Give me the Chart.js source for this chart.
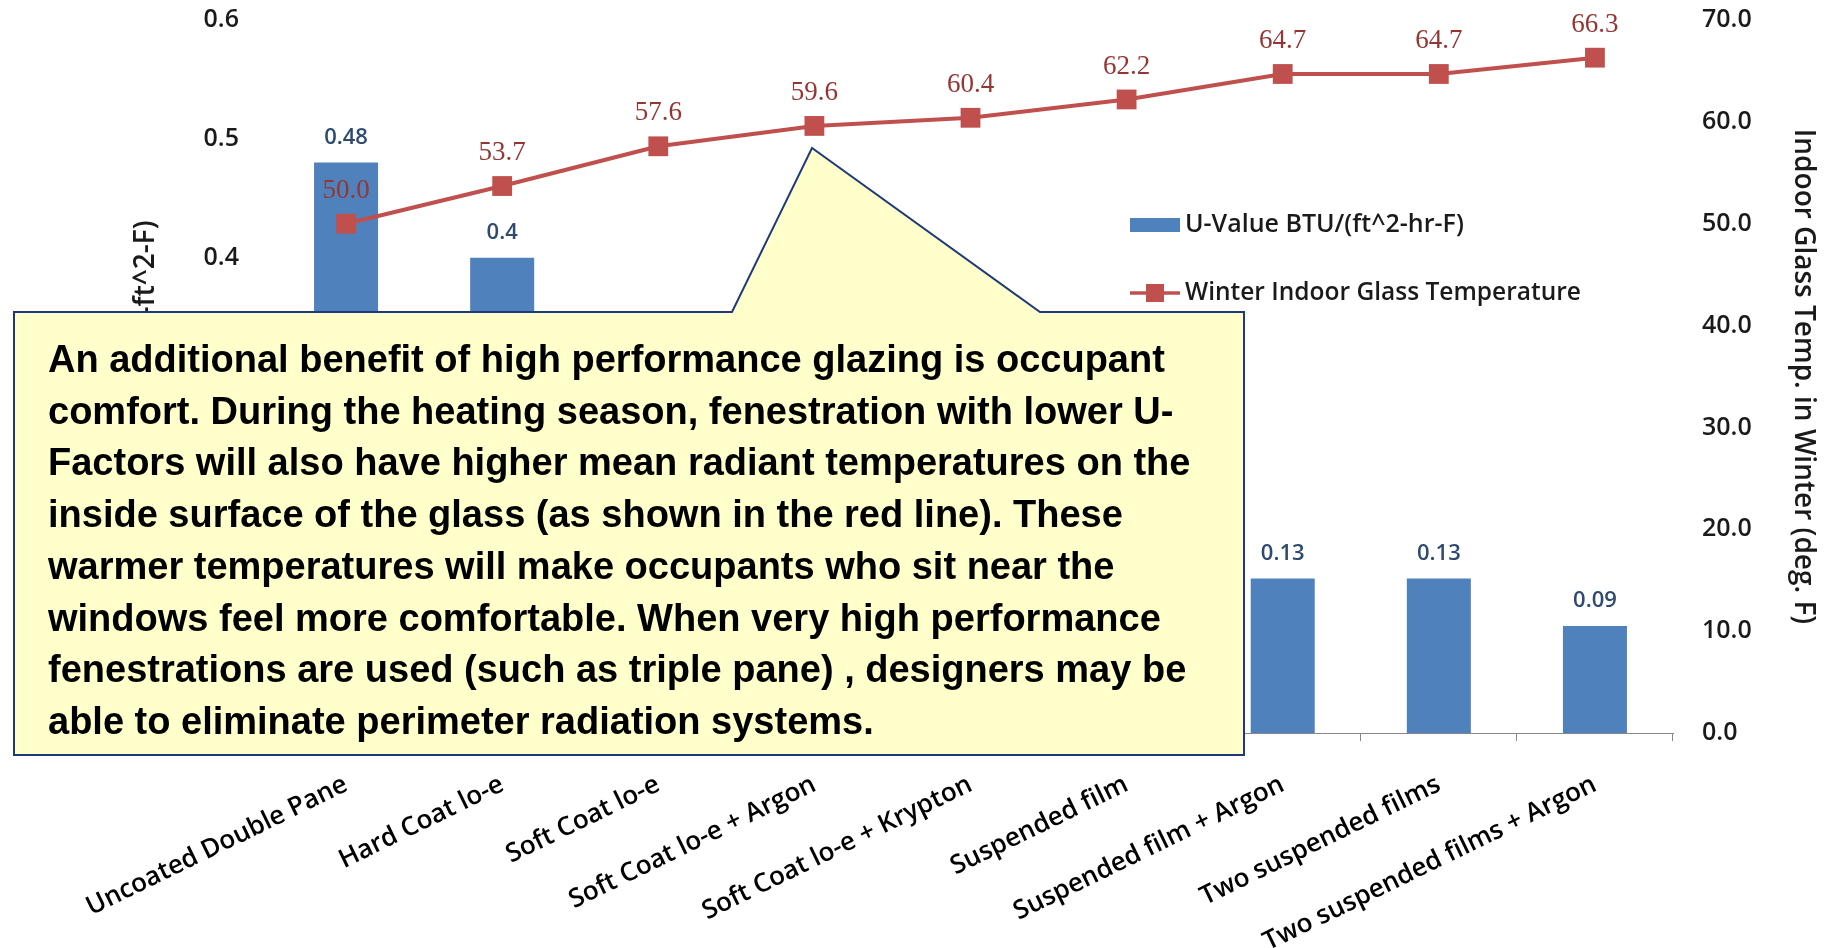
<!DOCTYPE html>
<html>
<head>
<meta charset="utf-8">
<title>Glazing U-Value vs Winter Glass Temperature</title>
<script src="https://cdn.jsdelivr.net/npm/chart.js@4.4.1/dist/chart.umd.min.js"></script>
<style>
    html, body { margin: 0; padding: 0; background: #fff; }
    #wrap { position: relative; width: 1827px; height: 948px; overflow: hidden; }
    #chart { position: absolute; left: 0; top: 0; }
    #callout-shape { position: absolute; left: 0; top: 0; }
    #callout-text {
        position: absolute; left: 48px; top: 334px;
        font: bold 38px "Liberation Sans", Arial, sans-serif;
        line-height: 51.7px; color: #000; white-space: nowrap;
    }
</style>
</head>
<body>
<div id="wrap">
    <canvas id="chart" width="1827" height="948"></canvas>
    <svg id="callout-shape" width="1827" height="948">
        <polygon points="14,312 732,312 812,148 1040,312 1244,312 1244,755 14,755"
                 fill="#FFFFCC" stroke="#1F3A7A" stroke-width="2"/>
    </svg>
    <div id="callout-text">An additional benefit of high performance glazing is occupant<br>comfort. During the heating season, fenestration with lower U-<br>Factors will also have higher mean radiant temperatures on the<br>inside surface of the glass (as shown in the red line). These<br>warmer temperatures will make occupants who sit near the<br>windows feel more comfortable. When very high performance<br>fenestrations are used (such as triple pane) , designers may be<br>able to eliminate perimeter radiation systems.</div>
</div>
<script>
// Chart data
const categories = [
    'Uncoated Double Pane', 'Hard Coat lo-e', 'Soft Coat lo-e',
    'Soft Coat lo-e + Argon', 'Soft Coat lo-e + Krypton', 'Suspended film',
    'Suspended film + Argon', 'Two suspended films', 'Two suspended films + Argon'
];
const uValues = [0.48, 0.4, 0.30, 0.25, 0.23, 0.19, 0.13, 0.13, 0.09];
const glassTemps = [50.0, 53.7, 57.6, 59.6, 60.4, 62.2, 64.7, 64.7, 66.3];
const uAxisTicks = [0, 0.1, 0.2, 0.3, 0.4, 0.5, 0.6];
const tempAxisTicks = [0, 10, 20, 30, 40, 50, 60, 70];

const barLabel = 'U-Value BTU/(ft^2-hr-F)';
const lineLabel = 'Winter Indoor Glass Temperature';
const uAxisTitle = 'U-Value BTU/(hr-ft^2-F)';
const tempAxisTitle = 'Indoor Glass Temp. in Winter (deg. F)';

const BLUE = '#4F81BD';
const RED = '#C0504D';
const FONT = '"Open Sans", "Noto Sans", sans-serif';

Chart.defaults.font.family = FONT;

// Value labels above bars and points
const valueLabels = {
    id: 'valueLabels',
    afterDatasetsDraw(chart) {
        const ctx = chart.ctx;
        ctx.save();
        ctx.textAlign = 'center';
        ctx.textBaseline = 'middle';
        chart.data.datasets.forEach((ds, i) => {
            const meta = chart.getDatasetMeta(i);
            meta.data.forEach((el, j) => {
                const v = ds.data[j];
                if (ds.type === 'line') {
                    ctx.font = '27px "Liberation Serif", "Times New Roman", serif';
                    ctx.fillStyle = '#943634';
                    ctx.fillText(v.toFixed(1), el.x, el.y - 33);
                } else {
                    ctx.font = '600 22px ' + FONT;
                    ctx.fillStyle = '#2E4A6E';
                    ctx.fillText(String(v), el.x, el.y - 25);
                }
            });
        });
        ctx.restore();
    }
};

// Legend drawn inside the plot, right of centre
const insideLegend = {
    id: 'insideLegend',
    afterDraw(chart) {
        const ctx = chart.ctx;
        const x = 1130, w = 50;
        ctx.save();
        ctx.font = '600 25px ' + FONT;
        ctx.textBaseline = 'middle';

        ctx.fillStyle = BLUE;
        ctx.fillRect(x, 218, w, 14);
        ctx.fillStyle = '#1a1a1a';
        ctx.fillText(barLabel, x + w + 5, 225);

        ctx.strokeStyle = RED;
        ctx.lineWidth = 3.5;
        ctx.beginPath();
        ctx.moveTo(x, 293);
        ctx.lineTo(x + w, 293);
        ctx.stroke();
        ctx.fillStyle = RED;
        ctx.fillRect(x + w / 2 - 9, 293 - 9, 18, 18);
        ctx.fillStyle = '#1a1a1a';
        ctx.font = '600 24.5px ' + FONT;
        ctx.fillText(lineLabel, x + w + 5, 293);
        ctx.restore();
    }
};

// fixed axis box sizes so the plot area sits where the picture has it
function fixWidth(w) {
    return s => {
        s.width = w;
        s.paddingTop = 0;
        s.paddingBottom = 0;
    };
}

const ctx = document.getElementById('chart').getContext('2d');
new Chart(ctx, {
    type: 'bar',
    data: {
        labels: categories,
        datasets: [
            {
                type: 'line',
                label: lineLabel,
                data: glassTemps,
                yAxisID: 'yTemp',
                borderColor: RED,
                backgroundColor: RED,
                borderWidth: 4,
                pointStyle: 'rect',
                pointRadius: 14,
                pointBorderWidth: 0,
                tension: 0,
                order: 0
            },
            {
                type: 'bar',
                label: barLabel,
                data: uValues,
                yAxisID: 'yU',
                backgroundColor: BLUE,
                barPercentage: 0.41,
                categoryPercentage: 1.0,
                order: 1
            }
        ]
    },
    options: {
        responsive: false,
        animation: false,
        layout: { padding: { top: 20, left: 0, right: 0, bottom: 0 } },
        plugins: {
            legend: { display: false },
            tooltip: { enabled: false }
        },
        scales: {
            x: {
                offset: true,
                grid: {
                    display: true, drawOnChartArea: false, drawTicks: true,
                    tickLength: 8, color: '#868686', offset: true
                },
                border: { display: true, color: '#868686', width: 1 },
                ticks: {
                    autoSkip: false, minRotation: 26, maxRotation: 26, padding: 28,
                    color: '#000', font: { size: 26, weight: '600' }
                },
                afterFit: s => { s.height = 215; }
            },
            yU: {
                position: 'left',
                min: uAxisTicks[0],
                max: uAxisTicks[uAxisTicks.length - 1],
                grid: { display: false },
                border: { display: false },
                ticks: {
                    stepSize: uAxisTicks[1] - uAxisTicks[0], padding: 21,
                    color: '#1a1a1a', font: { size: 25, weight: '600' },
                    callback: v => String(Math.round(v * 10) / 10)
                },
                title: {
                    display: true, text: uAxisTitle, color: '#1a1a1a',
                    font: { size: 28, weight: '600' }, padding: { top: 129, bottom: 0 }
                },
                afterFit: fixWidth(268)
            },
            yTemp: {
                position: 'right',
                min: tempAxisTicks[0],
                max: tempAxisTicks[tempAxisTicks.length - 1],
                grid: { display: false },
                border: { display: false },
                ticks: {
                    stepSize: tempAxisTicks[1] - tempAxisTicks[0], padding: 21,
                    color: '#1a1a1a', font: { size: 25, weight: '600' },
                    callback: v => v.toFixed(1)
                },
                title: {
                    display: true, text: tempAxisTitle, color: '#1a1a1a',
                    font: { size: 28, weight: '600' }, padding: { top: 7, bottom: 0 }
                },
                afterFit: fixWidth(154)
            }
        }
    },
    plugins: [valueLabels, insideLegend]
});
</script>
</body>
</html>
